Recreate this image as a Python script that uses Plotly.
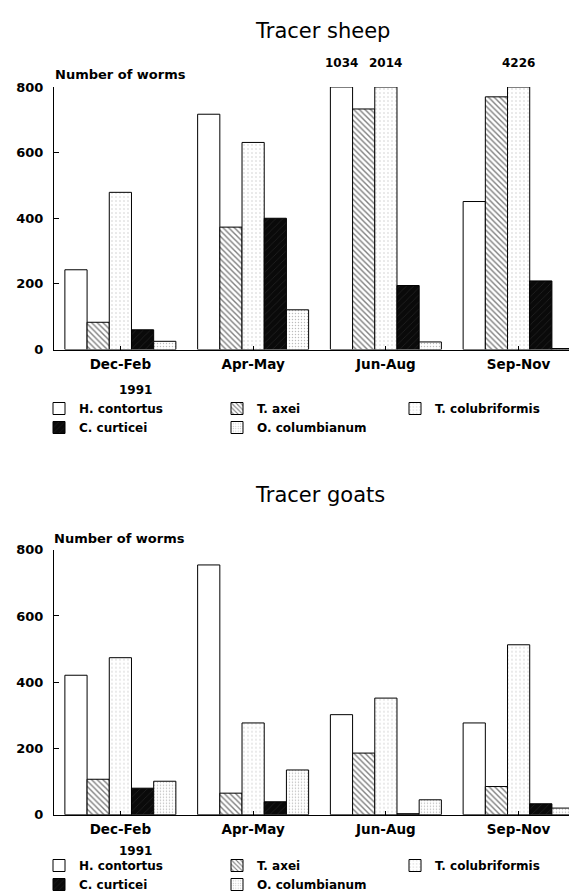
import numpy as np
import plotly.graph_objects as go

W, H = 577, 891

seasons = ["Dec-Feb", "Apr-May", "Jun-Aug", "Sep-Nov"]
species = ["H. contortus", "T. axei", "T. colubriformis", "C. curticei", "O. columbianum"]

# Tracer sheep (number of worms)
sheep_h_contortus = [243, 717, 1034, 451]
sheep_t_axei = [83, 373, 733, 770]
sheep_t_colubriformis = [479, 631, 2014, 4226]
sheep_c_curticei = [60, 400, 195, 209]
sheep_o_columbianum = [25, 121, 23, 3]

# Tracer goats (number of worms)
goat_h_contortus = [421, 754, 302, 277]
goat_t_axei = [107, 65, 186, 85]
goat_t_colubriformis = [474, 277, 352, 513]
goat_c_curticei = [80, 39, 3, 33]
goat_o_columbianum = [101, 135, 45, 20]

y_ticks = [0, 200, 400, 600, 800]
YMAX = 800
year_label = "1991"

sheep = [sheep_h_contortus, sheep_t_axei, sheep_t_colubriformis, sheep_c_curticei, sheep_o_columbianum]
goats = [goat_h_contortus, goat_t_axei, goat_t_colubriformis, goat_c_curticei, goat_o_columbianum]

FONT = "DejaVu Sans, Liberation Sans, Arial, sans-serif"

styles = [
    dict(color="white", pattern=dict(shape="")),
    dict(color="white", pattern=dict(shape="\\", fgcolor="black", bgcolor="white", size=4, solidity=0.35)),
    dict(color="white", pattern=dict(shape=".", fgcolor="#9a9a9a", bgcolor="white", size=4, solidity=0.12)),
    dict(color="#0a0a0a", pattern=dict(shape="/", fgcolor="#3a3a3a", bgcolor="#0a0a0a", size=5, solidity=0.15)),
    dict(color="white", pattern=dict(shape=".", fgcolor="#7a7a7a", bgcolor="white", size=3, solidity=0.18)),
]

BARGAP = 0.164
fig = go.Figure()

panels = [("x", "y", "legend", sheep), ("x2", "y2", "legend2", goats)]
for xa, ya, lg, data in panels:
    for i, (name, vals) in enumerate(zip(species, data)):
        st = styles[i]
        fig.add_trace(go.Bar(
            x=seasons, y=np.minimum(np.array(vals), YMAX), name=name,
            xaxis=xa, yaxis=ya, legend=lg,
            marker=dict(color=st["color"], pattern=st["pattern"],
                        line=dict(color="black", width=1)),
            hoverinfo="skip",
        ))
        # labels for values above the axis maximum
        bw = (1 - BARGAP) / len(species)
        for j, v in enumerate(vals):
            if v > YMAX:
                fig.add_annotation(
                    x=j + (i - (len(species) - 1) / 2) * bw, y=YMAX,
                    xref=xa, yref=ya, text=str(v), showarrow=False,
                    yshift=24, font=dict(family=FONT, size=12, weight="bold", color="black"))

xdom = [46 / W, 1.0]
top_dom = [(H - 341.5) / H, (H - 79) / H]
bot_dom = [(H - 806.7) / H, (H - 541.7) / H]

axis_common_x = dict(
    showline=True, linecolor="black", linewidth=1, ticks="inside", ticklen=4,
    tickcolor="black", showgrid=False, range=[-0.5, 3.5], ticklabelstandoff=2,
    tickfont=dict(family=FONT, size=13.5, weight="bold", color="black"),
)
axis_common_y = dict(
    showline=True, linecolor="black", linewidth=1, ticks="inside", ticklen=5,
    tickcolor="black", showgrid=False, zeroline=False, range=[0, YMAX],
    tickvals=y_ticks, ticklabelstandoff=7,
    tickfont=dict(family=FONT, size=13, weight="bold", color="black"),
)

legend_common = dict(
    orientation="h", xanchor="left", yanchor="top", traceorder="normal",
    entrywidth=133, entrywidthmode="pixels", bgcolor="rgba(0,0,0,0)",
    font=dict(family=FONT, size=12, weight="bold", color="black"),
)

fig.update_layout(
    width=W, height=H,
    margin=dict(l=0, r=0, t=0, b=0, autoexpand=False),
    paper_bgcolor="white", plot_bgcolor="white",
    barmode="group", bargap=BARGAP, bargroupgap=0,
    xaxis=dict(domain=xdom, anchor="y", **axis_common_x),
    yaxis=dict(domain=top_dom, anchor="x", **axis_common_y),
    xaxis2=dict(domain=xdom, anchor="y2", **axis_common_x),
    yaxis2=dict(domain=bot_dom, anchor="x2", **axis_common_y),
    legend=dict(x=31 / W, y=1 - 386 / H, **legend_common),
    legend2=dict(x=31 / W, y=1 - 843 / H, **legend_common),
    showlegend=True,
)

texts = [
    ("Tracer sheep", 314, 23, 21, "normal", "center"),
    ("Tracer goats", 312, 487, 21, "normal", "center"),
    ("Number of worms", 45, 66, 13, "bold", "left"),
    ("Number of worms", 44, 530, 13, "bold", "left"),
    (year_label, 127, 382, 12, "bold", "center"),
    (year_label, 127, 843, 12, "bold", "center"),
]
for t, px, py, sz, wt, xa in texts:
    fig.add_annotation(
        x=px / W, y=1 - py / H, xref="paper", yref="paper", text=t,
        showarrow=False, xanchor=xa, yanchor="middle",
        font=dict(family=FONT, size=sz, weight=wt, color="black"))

fig.write_html("out.html")
